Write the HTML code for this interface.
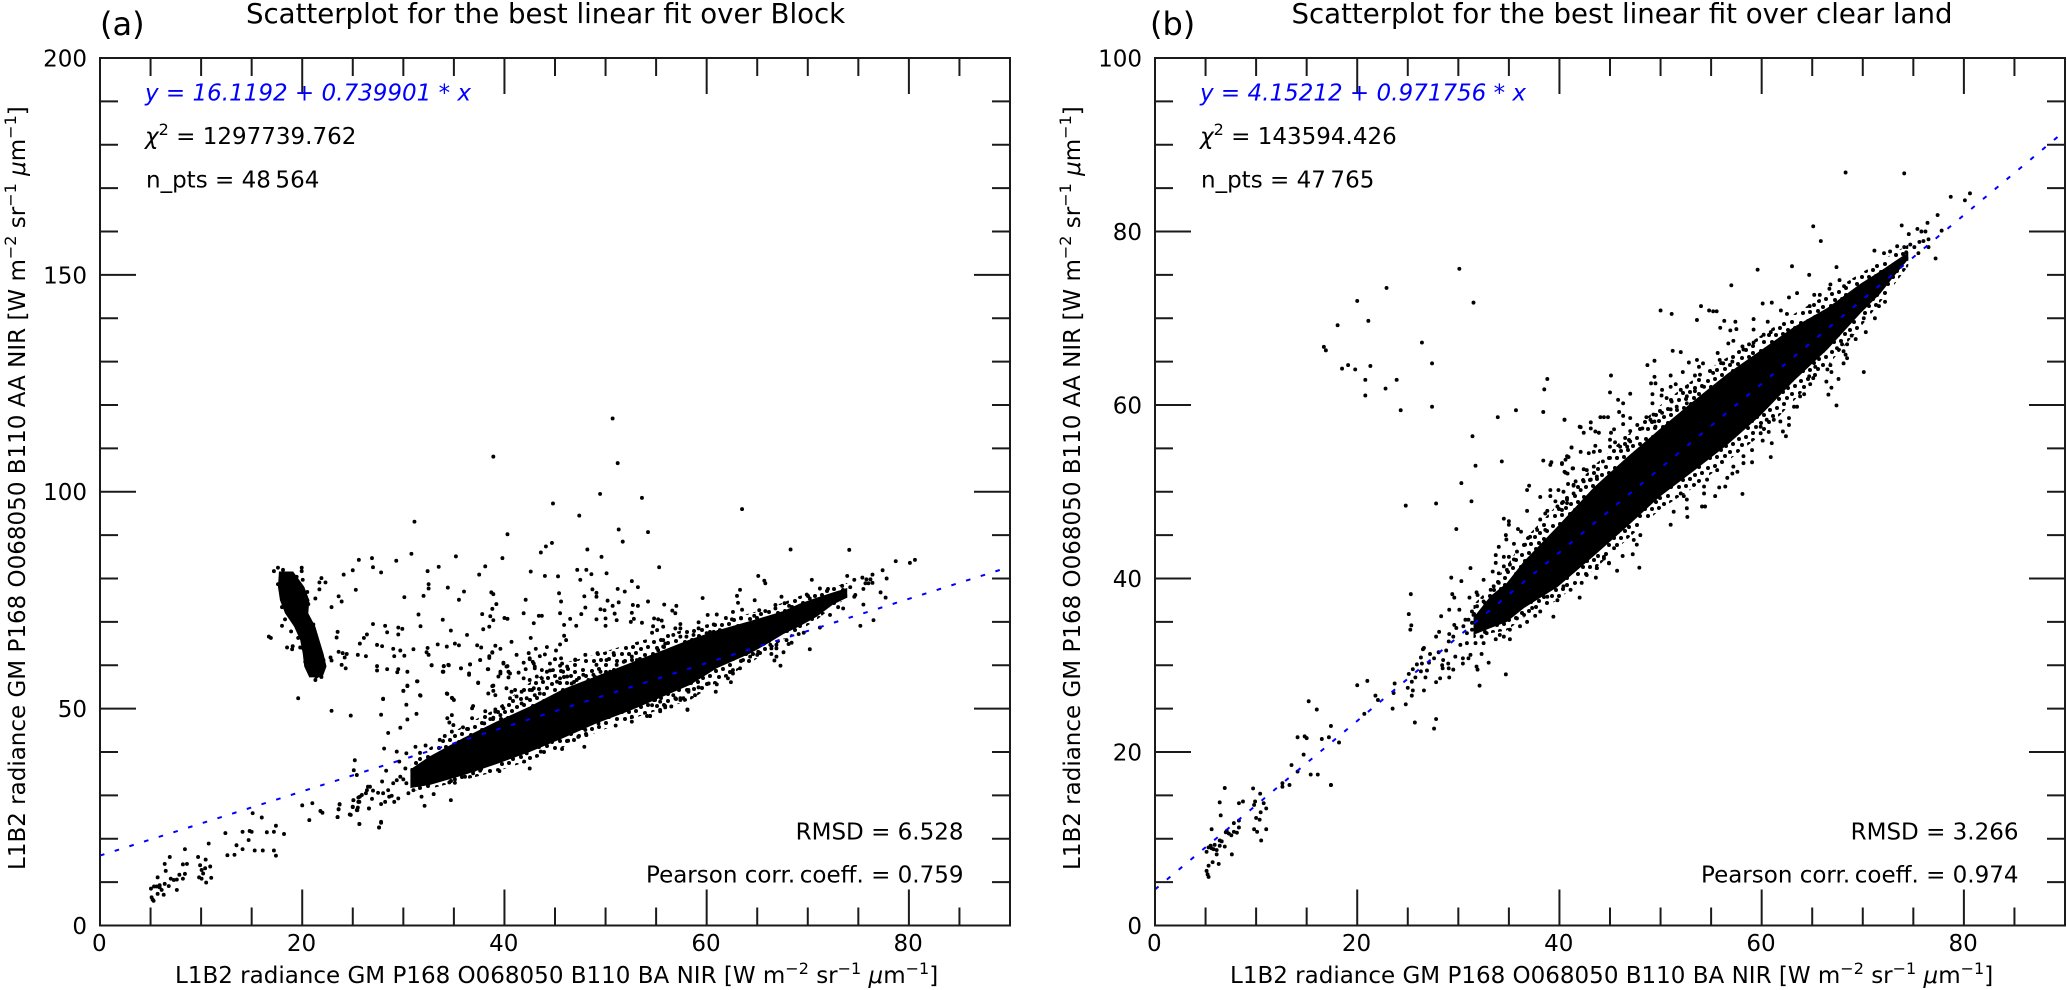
<!DOCTYPE html>
<html lang="en">
<head>
<meta charset="utf-8">
<title>Scatterplots for the best linear fit</title>
<style>
html,body{margin:0;padding:0;background:#fff;}
svg{display:block;font-family:"DejaVu Sans","Liberation Sans",sans-serif;fill:#000;}
.sup{font-size:16px;}
.t{font-size:23px;}
</style>
</head>
<body>
<svg id="chart" xmlns="http://www.w3.org/2000/svg" width="2067" height="990" viewBox="0 0 2067 990">
  <defs>
    <pattern id="dotTexture" patternUnits="userSpaceOnUse" width="31" height="29">
      <g fill="#000">
        <circle cx="3" cy="4" r="2"/><circle cx="10" cy="2" r="2"/><circle cx="17" cy="5" r="2"/><circle cx="25" cy="3" r="2"/>
        <circle cx="6" cy="10" r="2"/><circle cx="13" cy="9" r="2"/><circle cx="21" cy="11" r="2"/><circle cx="28" cy="9" r="2"/>
        <circle cx="2" cy="16" r="2"/><circle cx="9" cy="16" r="2"/><circle cx="16" cy="15" r="2"/><circle cx="25" cy="17" r="2"/>
        <circle cx="5" cy="23" r="2"/><circle cx="12" cy="22" r="2"/><circle cx="20" cy="21" r="2"/><circle cx="28" cy="23" r="2"/>
        <circle cx="17" cy="27" r="2"/>
      </g>
    </pattern>
  </defs>
  <rect x="0" y="0" width="2067" height="990" fill="#fff"/>
  <g id="panelA"></g>
  <g id="panelB"></g>

  <text x="100" y="35" font-size="32">(a)</text>
  <text x="246" y="23" font-size="27.6">Scatterplot for the best linear fit over Block</text>
  <text class="t" x="175" y="983">L1B2 radiance GM P168 O068050 B110 BA NIR [W m<tspan class="sup" dy="-9">−2</tspan><tspan dy="9"> sr</tspan><tspan class="sup" dy="-9">−1</tspan><tspan dy="9"> </tspan><tspan font-style="italic">μ</tspan>m<tspan class="sup" dy="-9">−1</tspan><tspan dy="9">]</tspan></text>
  <text class="t" transform="translate(25,870) rotate(-90)" x="0" y="0">L1B2 radiance GM P168 O068050 B110 AA NIR [W m<tspan class="sup" dy="-9">−2</tspan><tspan dy="9"> sr</tspan><tspan class="sup" dy="-9">−1</tspan><tspan dy="9"> </tspan><tspan font-style="italic">μ</tspan>m<tspan class="sup" dy="-9">−1</tspan><tspan dy="9">]</tspan></text>
  <text class="t" x="145" y="100.6" fill="#0000ff" font-style="italic">y = 16.1192 + 0.739901 * x</text>
  <text class="t" x="145" y="144"><tspan font-style="italic">χ</tspan><tspan class="sup" dy="-9">2</tspan><tspan dy="9"> = 1297739.762</tspan></text>
  <text class="t" x="146" y="187.6">n_pts = 48&#8201;564</text>
  <text class="t" x="963.5" y="839.3" text-anchor="end">RMSD = 6.528</text>
  <text class="t" x="963.5" y="882.5" text-anchor="end">Pearson corr.&#8201;coeff. = 0.759</text>

  <text x="1150" y="35" font-size="32">(b)</text>
  <text x="1291.5" y="23" font-size="27.6">Scatterplot for the best linear fit over clear land</text>
  <text class="t" x="1230" y="983">L1B2 radiance GM P168 O068050 B110 BA NIR [W m<tspan class="sup" dy="-9">−2</tspan><tspan dy="9"> sr</tspan><tspan class="sup" dy="-9">−1</tspan><tspan dy="9"> </tspan><tspan font-style="italic">μ</tspan>m<tspan class="sup" dy="-9">−1</tspan><tspan dy="9">]</tspan></text>
  <text class="t" transform="translate(1080,870) rotate(-90)" x="0" y="0">L1B2 radiance GM P168 O068050 B110 AA NIR [W m<tspan class="sup" dy="-9">−2</tspan><tspan dy="9"> sr</tspan><tspan class="sup" dy="-9">−1</tspan><tspan dy="9"> </tspan><tspan font-style="italic">μ</tspan>m<tspan class="sup" dy="-9">−1</tspan><tspan dy="9">]</tspan></text>
  <text class="t" x="1200" y="100.6" fill="#0000ff" font-style="italic">y = 4.15212 + 0.971756 * x</text>
  <text class="t" x="1200" y="144"><tspan font-style="italic">χ</tspan><tspan class="sup" dy="-9">2</tspan><tspan dy="9"> = 143594.426</tspan></text>
  <text class="t" x="1201" y="187.6">n_pts = 47&#8201;765</text>
  <text class="t" x="2018.5" y="839.3" text-anchor="end">RMSD = 3.266</text>
  <text class="t" x="2018.5" y="882.5" text-anchor="end">Pearson corr.&#8201;coeff. = 0.974</text>
</svg>
<script>
const xRange = [0, 90];
const yRangeA = [0, 200];
const yRangeB = [0, 100];
const xMajorTicks = [0, 20, 40, 60, 80];
const xMinorTicks = [5, 10, 15, 25, 30, 35, 45, 50, 55, 65, 70, 75, 85];
const yMajorTicksA = [0, 50, 100, 150, 200];
const yMinorTicksA = [10, 20, 30, 40, 60, 70, 80, 90, 110, 120, 130, 140, 160, 170, 180, 190];
const yMajorTicksB = [0, 20, 40, 60, 80, 100];
const yMinorTicksB = [5, 10, 15, 25, 30, 35, 45, 50, 55, 65, 70, 75, 85, 90, 95];
const fitA = [16.1192, 0.739901];
const fitB = [4.15212, 0.971756];

const bandXA = [30.7, 32.6, 35.9, 39.2, 42.5, 45.8, 49.1, 52.4, 55.7, 58.4, 61, 64.3, 65.9, 67.6, 69.2, 70.9, 72.5, 73.9];
const bandHighA = [36, 39, 43.2, 47, 50.5, 54.5, 57.5, 60.5, 63.5, 66, 68, 70.2, 71.3, 72.5, 74.2, 75.6, 76.8, 77.8];
const bandLowA = [31.7, 32.4, 34.6, 37.2, 40, 43.2, 46.6, 49.5, 52.8, 55.5, 59.3, 62.7, 64.8, 67.2, 69, 71.2, 74, 75.6];
const fringeHighA = [37, 41, 46, 50, 56, 60.5, 62.5, 65, 67, 68.5, 70, 72, 73, 74.5, 76, 77, 78, 79];
const fringeLowA = [31, 31.5, 33.5, 35.5, 38, 41, 44.5, 47.5, 50, 52, 56, 60.5, 63, 66, 68, 70.5, 73.5, 75.5];

const clusterYA = [81.6, 78.1, 75, 72, 68.9, 65.8, 62.75, 59.7, 57.2];
const clusterLeftA = [17.7, 17.6, 17.8, 18.3, 19.2, 19.8, 20.05, 20.2, 20.7];
const clusterRightA = [19.1, 20.2, 20.7, 20.6, 21.3, 21.7, 22.1, 22.4, 22];

const bandXB = [31.5, 33.2, 34.8, 36.5, 39.8, 43.4, 46.7, 50, 53.3, 56.6, 59.9, 63.2, 66.5, 69.8, 71.7, 73.2, 74.5];
const bandHighB = [35.5, 38, 39.5, 42, 46, 50.5, 54, 57.3, 60.5, 63.6, 66.3, 69, 71.2, 74, 75.4, 76.6, 77.6];
const bandLowB = [33.5, 34.3, 35, 36.6, 39, 42.6, 46, 49.5, 52.4, 55.4, 58.8, 62.8, 66.4, 70.6, 72.8, 75, 76.8];
const fringeHighB = [37, 39, 41.5, 44.5, 48.5, 53, 56.5, 60, 63, 65.5, 68, 70.5, 72.8, 75.2, 76.5, 77.6, 78.5];
const fringeLowB = [33, 33.7, 34, 35.5, 37.5, 41, 44.5, 48, 50.5, 53.5, 56.5, 60.5, 64.5, 69, 71.8, 74, 76];

const pointsA = [
[50.7,116.9],[38.9,108.1],[51.2,106.6],[31.1,93.1],[49.46,99.5],[53.6,98.6],[44.8,97.3],[47.4,94.5],[51.3,91.3],[54.2,90.7],[40.3,90.2],[51.7,88.5],[44.7,88.2],[44.1,87.4],[43.6,86],[48.2,86.7],[49.6,85],[30.8,85.7],[35.2,85.1],[39.8,84.7],[26.9,84.7],[25.6,84.3],[29.3,84.1],[27,82.6],[33.5,82.7],[38.1,82.8],[25,81.9],[27.8,81.4],[32.4,81.7],[24.1,80.9],[37.5,80.9],[42.6,81.6],[47.2,82],[48.1,82],[48.6,81],[50.1,81.2],[44,80.6],[45.3,80.5],[47.5,79.7],[52.6,79.4],[53.2,78],[21.9,80.1],[21.7,79.1],[22.3,79.1],[21.7,77.5],[32.5,78.7],[32.5,77.7],[34.4,77.9],[36,77],[25.3,77.4],[23.6,75.9],[21.3,75.4],[23.9,74.7],[30.1,75.7],[32,76],[35.5,75.1],[38.7,76.8],[38.9,76.4],[42.1,75.1],[45.4,76.6],[45.6,74.7],[47.9,75.9],[48.7,77.5],[49.1,76.7],[49.1,75.8],[51.2,77.6],[51.9,77],[50.2,74.9],[51.3,74.5],[50.7,73.7],[52.7,73.9],[53.2,73.7],[54.2,74.7],[22.9,73.4],[39.2,74.1],[38.8,73],[31.5,71.7],[37.8,71.8],[38.6,71.3],[38.9,70.4],[41.9,72],[43.4,71.4],[43.7,71.4],[45.5,72],[47.6,71.8],[48,73.3],[49.5,72.9],[49.9,72.7],[50.9,71.9],[52.6,72.1],[33.9,70.5],[40,70.9],[40.3,70.7],[42.9,69.7],[46.5,70.7],[49.1,70.6],[50,70.8],[51.1,70.4],[52.8,70.7],[52.5,70],[27,69.5],[28.2,69.1],[31.7,69],[38.5,68.9],[45.9,69.3],[47.1,69.1],[50,69.1],[53.6,69.8],[29.5,68.7],[29.9,68.4],[28.4,67.6],[34.7,68],[37.9,68.3],[23.5,67.7],[29.5,67.1],[26.4,67.1],[36.3,67],[23.4,66.4],[42.6,66.3],[45.9,66.8],[40.7,65.4],[46.1,65.8],[26.1,66.3],[25.7,65],[27.4,64.7],[27.9,64.4],[33.4,64.8],[35.1,65],[35.5,64.6],[34.3,64.3],[37.3,64.6],[37.7,64.1],[39.1,64.5],[39.6,63.8],[45.5,64.8],[44.2,64.2],[43.1,63.8],[45.1,63.4],[29,63.8],[29.7,63.4],[31,63.7],[32.4,64],[32.3,63],[32.5,62.4],[23.6,63.1],[24,62.8],[24.4,62.6],[25.5,62.4],[26.3,62.1],[24.2,61.8],[29.1,62.1],[30.1,62.2],[22.8,61.8],[22.9,61.1],[23.9,60.1],[24.3,59.3],[27.4,59.8],[27.4,58.8],[28.4,59.1],[29.5,59.1],[29.4,58.4],[30.4,58.5],[32.8,60],[34,59.8],[34.5,60],[35.7,59.3],[33.9,58.5],[36.6,60.2],[36.5,57.8],[37.6,61.2],[38.4,59.1],[38.5,61.7],[38.8,62.9],[39.9,60.4],[40.3,59.8],[40.4,58.5],[40.4,57.2],[39.4,57.4],[39.6,58.1],[37.4,55.9],[38.8,55.2],[31.4,56.3],[30.4,55.2],[30,54.1],[31.7,53],[34.3,53.5],[34.8,52.5],[19.6,52.4],[28,52.3],[41.2,62.4],[42.4,62.8],[43.5,62.1],[44,62.5],[45,61.4],[45.6,61.6],[47,61.3],[42.5,61.4],[41.9,60.6],[42.9,60.4],[42.1,59.1],[43,59.7],[43.7,58.9],[44.5,58.8],[45.5,59.9],[46.2,59.7],
[17.2,81.7],[17.6,82.5],[18.1,82],[19.45,80.4],[19.95,82.5],[19.95,81.7],[20.05,79.7],[17.6,78.7],[20.5,76.9],[20.6,74.1],[18,73.4],[18.3,70.6],[18,69.1],[18.9,67.8],[21.1,69.4],[19.6,66.3],[16.7,66.6],[16.9,66.3],[18.5,64.1],[19.06,64.4],[19,63.7],[19.8,64.1],[20.1,63.9],[21.75,62.7],[22.1,61.2],[20.3,60.8],[21.9,57.3],[21.3,56.6],[21.4,57.4],[20.9,57.8],[20,76],[20.5,75],
[23.5,25],[23.6,26.8],[23.7,28],[24.8,25.5],[25.65,23.4],[27.8,23.9],[27.6,22.6],[25,27.3],[25.4,26.6],[25.5,27.2],[25.06,28.9],[25.55,29.5],[25.9,30.1],[25.65,28.5],[26.6,27],[27.8,28],[28.2,28.5],[29.1,28.5],[26.3,30.5],[26.7,32],[26.4,31.2],[26.9,29.2],[27,31.1],[27.5,30.6],[28,30.5],[28.5,31.2],[28.85,29.9],[28.6,29.7],[29.5,29.3],[30.5,30.5],[31,31.2],[29,32.8],[29.35,33.5],[29.7,34.3],[30,33.7],[30.3,32.8],[27.9,33.2],[28.3,35.7],[25.1,35.8],[25.4,34.7],[25.2,38.1],[29.6,37.8],[30.2,36.2],[29.35,40.1],[30.3,39.7],[28.1,40.8],[31.2,41.2],[32.2,41.5],[31.65,39.8],[22.9,49.5],[24.8,48.4],[27.8,48.6],[28.5,44.4],[29.7,45.6],[30.4,47.5],[31.3,48.8],[30.3,50.9],[28,52.2],[30,54.1],[30.4,55.3],[31.35,56.3],[31.65,53.1],[34.35,53.4],[34.85,52.4],[35,52],[34.35,47.8],[34.55,46.8],[34.8,48.5],[34.95,46.2],[34.8,44.7],[34.1,43.7],[33.6,42.8],[35.9,45.7],[36.3,45.3],[36.9,50.6],[36.8,50.1],[38.1,49.4],[36.8,47.8],[38,46.6],[38.9,54.1],[38.4,53.5],[39.1,53.1],[39.1,49.8],[39.1,49.3],[39.9,50.1],[38.6,47.6],[38.9,47.9],[39.6,48.5],[37.4,56],[38.9,55.3],[36.5,58.1],[35.7,59.3],[36.6,60.2],[38.35,59.1],[37.6,61.2],[38.5,62.1],[38.8,63],[39.6,58.5],[39.9,60.6],[32.8,60],[33.96,58.5],[34,59.8],[34.45,60.1],[40.2,54.7],[40.7,53.9],[41.05,54.3],[40.55,52.4],[41.2,52.8],[41.7,53.9],[41.7,51.2],[42.2,52.4],[42.5,54.3],[42.9,54.7],[43,53.1],[43.5,53.5],[41.9,57],[41.4,58.3],[40.55,58.1],[40.2,59.7],[42.5,56.6],[43.2,57.4],[43.7,57],[43,59.3],[42.8,60.8],[42.5,61.6],[44.2,58.5],[44.8,58.9],[45.8,58.5],[45.2,56.2],[45.5,57],[46.2,57.4],[47,61.2],[45.7,60.4],[44.5,60.4],[45,61.4],[48,62.4],[49.2,62.8],[49.1,60.1],[50.1,61.2],[50.8,62.8],[50.45,58.5],[51.1,60.1],[51.8,60.8],[52.6,62],[52.4,58.9],[53.1,61.2],[48.5,56.2],[48.8,57.8],[49.5,58.5],[47.8,57.8],[48.3,56.6],[47.15,56.6],[46.65,55.8],
[34.7,28.9],[32.1,27.6],[31.8,29.7],[33,30.3],[34.55,33],[35.1,32.9],[35.1,33.7],[36.1,34.3],[36.9,35.1],[37.6,35.7],[39.5,35.6],[41.95,37.8],[42.5,36.2],[40.7,38.9],[43.6,40.1],[42.2,39.7],[45.7,40.7],[47.9,41.2],[46.3,42.6],[47.3,43.5],[48.1,43.9],[48,45.1],[51,46.1],[49.3,46.6],[52.6,47],[52.6,48.1],[54.1,48.3],[54.4,48.3],[55.4,49.7],[55.9,50.6],[58.1,49.8],[57.4,52.4],[58.2,53.9],[56.7,53.1],[54.6,50.8],
[63.5,96],[68.3,86.7],[74.1,86.6],[78.7,84],[80.1,83.6],[80.6,84.3],[55.3,82.6],[65.1,80.6],[65.7,79.5],[65.8,78.9],[70.4,79.7],[73.9,80.6],[74.6,79.7],[75.4,80.2],[75.8,79.8],[76.2,79.8],[76.4,80.9],[75.7,78.9],[76,78.9],[76.4,79],[75.5,77.6],[77.4,81.9],[77.8,80],[77.2,76.8],[77.7,75.6],[63.3,77.4],[63,76],[63.1,74.4],[64.75,75],[63.5,72.8],[59.6,75.5],[55.8,74],[57,73.7],[56.6,72.6],[56.9,72],[67.4,75.8],[67.7,74.3],[68.15,73.7],[66.8,73.9],[66.8,73.1],[65.2,72.7],[65.8,72.5],[64.7,71.4],[69.9,76.3],[71.2,77.7],[72,77.6],[73.4,78.3],[74.2,78],[74.7,76.2],[75.5,74],[70.2,75.4],[60.1,71.6],[61,71.7],[61.9,70.9],[62.6,72.3],[62.5,70.6],[63.4,70.8],[54.8,70.8],[55.2,70.6],[55.55,70.3],[54.7,69],[55.7,68.9],[54.6,67.5],[55.1,68.1],[57.4,69.5],[59.2,69.9],[59.2,68.5],[56.9,68.5],[57.4,68.5],[56.7,67],[57.4,66.6],[58,66.6],[58.7,67],[60.7,69.4],[60.7,67.7],[60,67.4],[55.7,65.8],[55.7,64.3],[55.2,63.5],[55.9,65],[61.3,68.1],
[75.2,69.1],[76.5,70.4],[70.2,63.7],[67.3,59.9],[66.7,61.1],[66.9,62],[67.6,63],[66.4,62.6],[66.4,63.9],[66.9,63.9],[66.9,64.7],[66.3,64.7],[67.9,65.8],[68.4,65.2],[68.1,64.9],[69.6,67.5],[69.1,67.2],[71.2,68.7],[72.2,71.6],[73,73.4],[73.5,73.1],[74.6,75.8],[58.1,49.7],[55.4,49.4],[55.9,50.3],[56.5,50.5],[54.4,48.3],[60.9,53.9],[62.4,56.1],[62.1,57],[62.6,58.1],[62.6,58.9],[60.2,55.8],[61,55.6],[59.2,54.9],[58.85,53.1],[58.2,54.3],[57.7,52.4],[56.9,52.4],[57.4,52],[55.4,51.6],[54.9,52],[63.6,61.2],[63.3,59.3],[65.1,63.1],[64.3,62],[65,62.4],
[5.04,8.5],[5.1,6.5],[5.3,5.7],[5.2,6],[5.7,11.1],[5.34,9],[5.6,9],[5.9,8.8],[6.1,8.2],[5.7,7.3],[6.3,7.1],[5.9,9.3],[6.4,9.6],[6.8,9.1],[6.4,14.2],[6.9,15.8],[6.5,12.6],[7,10.8],[7.3,10.5],[7.6,10.6],[7.85,11.7],[8.2,10.8],[8.4,11.9],[7.6,8.2],[8.4,17.6],[8.2,14.1],[8.6,14.2],[9.7,15.8],[9.9,13.9],[10.45,15.2],[10.75,18.9],[10.9,13.6],[10.05,12.8],[10.4,13.2],[10.2,12],[9.8,11.1],[10.05,10.8],[10.5,9.9],[11,11],[12.4,21.3],[12.6,16.2],[13.3,16.3],[13.5,18.5],[14.1,21.6],[14.1,17.6],[14.8,21.8],[15,21.6],[14.7,19.7],[15.3,17.3],[16.1,17.3],[16.5,21.5],[17.2,21.6],[17.4,23],[18.2,21.1],[17.2,17.3],[17.4,16.1],[15.1,25.9],[16,24.9],[20,27.7],[21,28.2],[20.7,24.3],[21.8,26.4],[22,26],[23.7,27.9],[23.6,26.8],[23.5,25],[24.7,25.6],[25,27.4],[25.45,26.6],[25.65,23.4],[26.6,27],[27.6,22.6],[27.8,23.7],[25.06,28.9],[25.55,28.5],[25.7,29.7],[26.5,32]
];

const pointsB = [
[30.1,75.7],[22.9,73.5],[20,72],[31.5,71.8],[21.1,69.7],[18.06,69.2],[26.4,67.2],[16.7,66.7],[16.9,66.3],[27.4,64.8],[19.1,64.6],[18.5,64.2],[19.8,64.1],[21.3,64.5],[20.8,62.9],[23.9,62.9],[22.8,61.9],[20.8,61.1],[24.3,59.4],[27.4,59.8],[38.8,63],[38.5,61.8],[33.9,58.6],[35.7,59.4],[38.4,59.2],[40.5,58.3],[42,57.5],[31.4,56.4],[41.2,55.1],[40.9,54],[40.6,53.7],[40.25,53.2],[38.4,53.6],[39.2,53.4],[39.1,53.1],[34.3,53.5],[31.7,53],[30.3,51],[41.3,52.7],[40.6,52.2],[40.8,52.1],[37,50.7],[36.8,50.2],[39.1,50.2],[39.9,50.2],[38.1,49.4],[39.1,49.5],[40.85,50.9],[41.6,51.2],[41.4,50.7],
[68.3,86.8],[74.1,86.7],[65.1,80.6],[65.85,78.9],[78.7,84],[80.6,84.4],[80.1,83.6],[77.4,81.9],[73.85,80.7],[76.4,81],[75.4,80.3],[75.8,80],[76.2,80],[74.55,79.7],[77.8,80.1],[75.6,78.8],[76,78.9],[76.5,79.1],[74.7,78.5],[74.1,78.2],[75.1,78.2],[71.15,77.8],[72.7,77.7],[72.1,77.5],[73.4,78.3],[76.5,78.2],[75.5,77.5],[74.3,77.6],[77.2,76.9],
[59.6,75.6],[63,76],[64.7,75],[67.4,75.9],[57,73.8],[63.5,72.9],[62.7,72.4],[65.2,72.7],[65.75,72.7],[66.8,73.9],[66.7,73.4],[67.7,74.4],[68.15,73.7],[54,71.4],[54.8,70.9],[55.2,70.8],[55.55,70.8],[50,70.9],[51.1,70.5],[60.1,71.7],[61,71.8],[61.9,70.9],[62.5,70.5],[64.75,71.4],[53.6,69.8],[56.3,69.7],[57.4,69.6],[59.2,69.9],[60.6,69.6],[55.9,68.9],[56.9,68.6],[57.5,68.75],[59.2,68.7],[60.2,68.1],[60.9,68.4],[56.7,67.1],[57.2,67.4],[58.1,66.75],[58.2,66.4],[58.75,67],[59.2,67.2],[51.2,66.25],[52,66.1],[55.65,66],[49.4,65.1],[48.7,64.6],[52.8,64.9],[53.6,65.2],[54.2,64.8],[53.8,64.4],[55.85,65.2],[56.2,64.8],[57.1,65],[52.2,63.8],[51,63.4],[53.4,63.4],[53.9,63.5],[55.2,63.7],[45.1,63.4],[49.4,63.25],[49.06,62.5],[49.5,62.5],[50.15,61.75],[51,62.1],[51.5,62.4],[52,61.75],[52.6,62.1],[45,61.45],[47,61.3],[45.8,60.6],[46.3,60.2],[49.2,61.25],[49.2,60.2],[50.1,61.1],[50.6,60.8],[51.1,60.4],[51.6,59.8],[52.6,61],[52.6,60.2],[53.4,61.6],[54.3,62.1],[45.9,59.2],[44.05,58.6],[44.4,58.6],[44.8,58.6],[40.5,58.3],[46.3,58.75],[47,58.5],[48.6,58.6],[49.3,58.9],[50.15,59.1],[51,59.5],[46.3,57.8],[47.7,57.7],[49.4,58.1],[49,58.3],[42.1,57.45],[43.1,58],[43.1,57.3],[42.4,56.8],[43.55,56.95],[43.9,56.8],[45.4,57.2],[45.1,56.8],[47,57],[48.2,57.3],[49.5,57.5],[43.55,55.3],[45,56],[45.5,55.7],[46.5,56.2],[47,55.8],[41.2,55.1],[42.1,54.6],[40.75,54.1],[43.4,54.6],[42.9,54.45],[44,54.7],[45,55.2],[46,55.2],[46.7,55.2],[40.25,53.3],[44.3,53.5],[45,53.9],[45.7,53.9],[40.5,52.3],[41.35,52.7],[42.4,52.6],[42.7,52.5],[43.4,52.9],[41.4,50.8],[42.4,51.2],[43.1,51.4],[43.7,51.75],[40.4,50],[41.4,49.8],[42.1,50.2],[40.25,48.7],[40.75,49.1],
[70.1,63.8],[67.4,59.95],[67.6,63],[66.6,61.2],[66.9,62],[66.4,62.7],[66.5,64.1],[66.9,63.8],[66.8,64.6],[68.1,64.8],[68.45,65.4],[67.45,66.55],[68.1,66.2],[68.3,65.8],[70.3,68.4],[71.2,70],[69.3,67.6],[68.9,68],[68.45,67],[67.95,67],[70.1,70],[71.6,71.4],[72.2,71.9],[58.1,49.75],[60.9,54],[56.4,50.6],[55.8,50.5],[55.4,49.5],[54.3,49.8],[54.1,48.3],[54.4,48.3],[52.6,48.1],[52.65,47.1],[51,46.2],[51.3,47.7],[52.6,49.1],[52.3,49.5],[52,49.8],[47.9,41.25],[48,45],[47.65,43.9],[47.25,42.8],[46.25,42.6],[44.9,41.75],[44.4,42.5],[47.35,44.45],[43.7,41.2],[62.4,56.4],[61,55.6],[60.1,55.9],[62.1,56.95],[60.7,56.9],[63.2,59.8],[63.5,59.8],[62.7,58.5],[62.7,57.7],[61.85,58.1],[61.2,58.3],[60.5,58.3],[59.9,57.5],[63.8,61],[64.2,61.25],[64.8,62.4],[65.1,63.1],[64.7,63.3],[65.3,64.4],[65.5,65.6],[59.05,54.8],[58.2,53.3],[59.05,53.4],[57.6,52.3],[57.1,52.1],[56.6,51.6],[55.6,52.5],[54.6,51.4],[54.3,50.6],[58.2,54.1],[57.2,52.9],[59.9,56.75],
[24.8,48.4],[27.8,48.65],[31.3,48.9],[29.8,45.7],[36.8,47.8],[38.6,47.5],[38.8,47.8],[39.6,48.9],[39.8,48.3],[40.25,47.9],[40.75,48.7],[34.5,46.9],[35,46.6],[35,46.2],[35.9,45.7],[36.2,45.4],[38.1,46.8],[37.8,45.6],[38.6,45.6],[37.1,44.8],[34.7,45],[34.75,44.5],[34,43.65],[35.5,44],[33.7,42.7],[34.5,42.5],[35,42.5],[35.5,42.2],[35.8,43.1],[36.6,43.9],[33.7,41.8],[34.5,41.4],[33.4,40.8],[34,40.6],[34.8,41],[35.1,41.6],[31.2,41.2],[29.3,40.1],[30.3,39.7],[32.5,39.85],[25.3,38.2],[25.1,35.9],[25.35,34.6],[25.25,34.1],[29.4,38.2],[29.6,37.8],[31.1,37.8],[31.8,38.4],[31.9,38.1],[32.5,37.35],[33.2,38.7],[33.5,39.1],[34,39.5],[29.1,36.4],[30.1,36.4],[28.3,35.65],[31.35,36.2],[31.85,36.8],[31,35.25],[30.7,35.25],[31.5,35.8],[32.2,36],[32.5,36.4],[29.6,34.65],[29.8,34.3],[30.5,34.5],[31.35,34.9],[28.1,33.85],[27.8,33.3],[29.1,33.6],[29.5,33.3],[31.35,34.1],[30.85,33.7],[31.7,34.3],[32.2,34.85],[32.7,34.65],[26.6,32],[26.5,31.85],[29.05,32.75],[30.2,32.35],[30.85,32.55],[31.7,32.55],[32.3,33.3],[32.8,33.7],[32.5,32.55],[28.05,31.5],[27.2,31.3],[27.6,30.8],[26.3,30.9],[28.8,31.7],[29.7,31],[30.45,30.8],[31.2,31.2],[32.3,31.3],[28.5,30.6],[31,30.8],[33,30.3],[25.9,30.1],[26.4,30.2],[27.1,30.3],[28.4,30],[29,30.2],[30.45,30.2],[31.8,29.85],[31.9,29.5],[28.45,29.65],[29.05,29.65],[29.5,29.5],[25.5,29.55],[25.1,29],[26.3,29.3],[26.9,29.4],[25.75,28.6],[26.75,28.6],[28.2,28.5],[29.1,28.6],[34.7,28.95],[27.8,28.05],[32.1,27.65],[20,27.7],[21,28.2],[23.7,27.9],[25.4,28.1],[23.6,26.8],[25,27.4],[25.5,27.1],[26.6,27.1],[25.4,26.5],[21.8,26.5],[22.05,26],[23.5,25],[24.8,25.5],[20.7,24.4],[25.7,23.4],[27.8,23.8],[27.6,22.7],[15.2,25.85],[16,24.9],[17.4,23],[14.1,21.7],[14.8,21.8],[15,21.6],[16.5,21.5],[17.2,21.7],[18.2,21.1],[14.7,19.7],[13.5,18.5],[15.4,17.4],[16.1,17.4],[17.4,16.2],[14.1,17.75],
[5.1,6.3],[5.2,5.9],[5.3,5.6],[5.3,6.9],[6.3,7.1],[5.7,7.3],[5.1,8.5],[7.6,8.2],[6.9,9.1],[6.1,8.2],[6.4,9.2],[6.1,8.7],[5.8,8.8],[5.6,8.9],[5.3,9],[5.5,9.2],[5.9,9.3],[6.4,9.8],[6.6,9.7],[5.6,11.1],[6.5,12.7],[6.4,14.2],[6.9,15.85],[8.3,14.1],[8.7,14.3],[9.7,15.8],[10.4,15.2],[9.9,14.3],[9.8,13.9],[10.75,14.1],[11,13.5],[10.45,13.05],[10,12.4],[10.35,12.2],[9.8,11.1],[10.1,10.8],[11,11.1],[10.5,9.8],[7.8,11.8],[8.3,12.1],[8.3,11.3],[8.1,10.7],[7.8,10.8],[7.55,10.4],[7.3,10.6],[7.1,10.9],[7,10.75],[12.6,16.4],[12.6,16],[13.3,16.2],[17.4,16.2],
[42,37.8],[39.4,35.6],[43.6,40.1],[45.7,40.9],[44.9,41.8],[42.2,39.5],[41.1,38.7],[39.8,37.5],[38.1,36.2],[37.6,35.7],[36.8,35],[36.1,34.5],[35.1,34.1],[35.1,33],[34.5,33.3],[33.7,33],[34.1,33.5],[42.7,40.4],[43.7,41.2],[44.4,42.3],[45.4,43.5],[40.4,39.1],[38.8,37.9],[37.3,36.6],[36.5,35.8],[35.8,35.4]
];

const NS = 'http://www.w3.org/2000/svg';

function node(parent, tag, attrs) {
  const el = document.createElementNS(NS, tag);
  for (const k in attrs) el.setAttribute(k, attrs[k]);
  parent.appendChild(el);
  return el;
}

function drawPanel(root, box, yRange, yMajor, yMinor, fit, bandX, bandLow, bandHigh, fringeLow, fringeHigh, points, blob) {
  const sx = v => box.left + (v - xRange[0]) / (xRange[1] - xRange[0]) * (box.right - box.left);
  const sy = v => box.bottom - (v - yRange[0]) / (yRange[1] - yRange[0]) * (box.bottom - box.top);
  const envelope = (xs, lo, hi) => {
    const upper = xs.map((x, i) => sx(x) + ',' + sy(hi[i]));
    const lower = xs.map((x, i) => sx(x) + ',' + sy(lo[i])).reverse();
    return upper.concat(lower).join(' ');
  };

  const fringe = node(root, 'polygon', {points: envelope(bandX, fringeLow, fringeHigh), fill: 'url(#dotTexture)'});
  
  

  const band = node(root, 'polygon', {points: envelope(bandX, bandLow, bandHigh), fill: '#000'});
  
  

  if (blob) {
    const l = blob.y.map((y, i) => sx(blob.left[i]) + ',' + sy(y));
    const r = blob.y.map((y, i) => sx(blob.right[i]) + ',' + sy(y)).reverse();
    const cluster = node(root, 'polygon', {points: l.concat(r).join(' '), fill: '#000'});
    
    
  }

  const pts = node(root, 'g', {});
  
  
  points.forEach(p => {
    const c = node(pts, 'circle', {cx: sx(p[0]), cy: sy(p[1]), r: 1.95, fill: '#000'});
    
    
  });

  const clipTop = yRange[1];
  const xEnd = Math.min(xRange[1], (clipTop - fit[0]) / fit[1]);
  const line = node(root, 'line', {
    x1: sx(xRange[0]), y1: sy(fit[0] + fit[1] * xRange[0]),
    x2: sx(xEnd), y2: sy(fit[0] + fit[1] * xEnd),
    stroke: '#0000ff', 'stroke-width': 2, 'stroke-dasharray': '4.6 10.8'
  });
  
  

  const tick = (x1, y1, x2, y2, name) => {
    const t = node(root, 'line', {x1, y1, x2, y2, stroke: '#1a1a1a', 'stroke-width': 2});
    
    
  };
  const MAJOR = 36, MINOR = 18;
  xMajorTicks.forEach(v => {
    if (v > xRange[0]) {
      tick(sx(v), box.bottom, sx(v), box.bottom - MAJOR, 'x-major-tick');
      tick(sx(v), box.top, sx(v), box.top + MAJOR, 'x-major-tick-top');
    }
  });
  xMinorTicks.forEach(v => {
    tick(sx(v), box.bottom, sx(v), box.bottom - MINOR, 'x-minor-tick');
    tick(sx(v), box.top, sx(v), box.top + MINOR, 'x-minor-tick-top');
  });
  yMajor.forEach(v => {
    if (v > yRange[0] && v < yRange[1]) {
      tick(box.left, sy(v), box.left + MAJOR, sy(v), 'y-major-tick');
      tick(box.right, sy(v), box.right - MAJOR, sy(v), 'y-major-tick-right');
    }
  });
  yMinor.forEach(v => {
    tick(box.left, sy(v), box.left + MINOR, sy(v), 'y-minor-tick');
    tick(box.right, sy(v), box.right - MINOR, sy(v), 'y-minor-tick-right');
  });

  const frame = node(root, 'rect', {
    x: box.left, y: box.top, width: box.right - box.left, height: box.bottom - box.top,
    fill: 'none', stroke: '#1a1a1a', 'stroke-width': 2
  });
  
  

  xMajorTicks.forEach(v => {
    const t = node(root, 'text', {x: sx(v) - 0.7, y: box.bottom + 25.3, 'text-anchor': 'middle', 'font-size': 23});
    t.textContent = String(v);
    
    
  });
  yMajor.forEach(v => {
    const t = node(root, 'text', {x: box.left - 13, y: sy(v) + 8.4, 'text-anchor': 'end', 'font-size': 23});
    t.textContent = String(v);
    
    
  });
}

drawPanel(document.getElementById('panelA'), {left: 100, right: 1010, top: 58, bottom: 925.5},
  yRangeA, yMajorTicksA, yMinorTicksA, fitA, bandXA, bandLowA, bandHighA, fringeLowA, fringeHighA, pointsA,
  {y: clusterYA, left: clusterLeftA, right: clusterRightA});
drawPanel(document.getElementById('panelB'), {left: 1155, right: 2065, top: 58, bottom: 925.5},
  yRangeB, yMajorTicksB, yMinorTicksB, fitB, bandXB, bandLowB, bandHighB, fringeLowB, fringeHighB, pointsB, null);
</script>
</body>
</html>
